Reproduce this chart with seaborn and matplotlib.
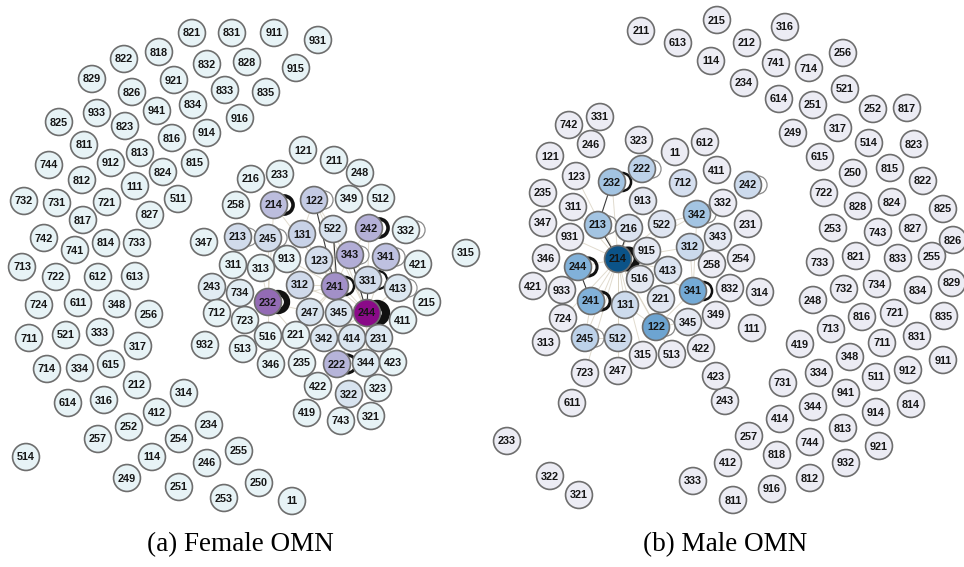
import matplotlib
matplotlib.use("Agg")
import matplotlib.pyplot as plt
import seaborn as sns
import pandas as pd
from matplotlib.colors import LinearSegmentedColormap

# ---------------- Female OMN (left) ----------------
f_labels = ["821","831","911","931","822","818","832","828","915","829","921","826","833","835",
            "933","941","834","916","825","823","914","816","811","813","744","912","815","824",
            "812","111","511","732","731","721","827","817","742","741","814","733","713","722",
            "612","613","724","611","348","256","711","521","333","317","714","334","615","212",
            "314","614","316","412","252","234","257","254","514","114","246","255","249","251",
            "253","250","11",
            "121","211","248","216","233","349","512","258","214","122","242","332","213","245",
            "131","522","347","343","341","421","315","311","313","913","123","331","243","734",
            "312","241","413","215","232","247","345","244","411","712","723","516","221","342",
            "414","231","932","513","346","235","222","344","423","422","322","323","419","743","321"]
f_x = [192,232,274,318,124,159,207,247,296,92,174,132,225,266,
       97,157,193,240,59,125,207,172,84,140,49,111,195,163,
       82,135,178,24,57,107,150,83,44,75,106,137,22,56,
       98,135,39,78,117,149,29,66,100,138,47,80,111,137,
       184,68,104,157,129,209,98,179,26,152,207,239,127,179,
       224,259,292,
       303,334,360,251,280,349,381,236,274,314,369,406,238,268,
       302,333,204,350,386,418,466,233,261,287,319,368,212,240,
       300,335,398,427,268,310,339,367,403,217,245,268,296,324,
       352,379,205,243,271,302,337,366,393,318,349,378,307,341,371]
f_y = [33,33,33,40,59,52,64,62,68,79,80,92,90,92,
       113,111,105,118,122,126,133,138,145,153,165,163,163,172,
       180,186,199,201,203,202,215,220,238,250,243,243,267,277,
       277,276,305,303,304,314,338,335,332,346,369,368,364,385,
       393,403,400,412,427,425,439,439,457,457,463,451,478,487,
       498,483,501,
       150,160,173,179,174,199,198,205,205,200,228,230,237,238,
       234,229,242,255,257,264,253,265,268,259,260,280,287,293,
       285,286,288,302,302,312,313,313,320,313,320,336,335,338,
       338,338,345,349,364,363,364,363,362,386,394,388,413,421,416]
f_hot_labels = ["244","232","241","343","222","242","214","341","122","131","312","213","245",
                "331","123","522","247","413","345","342","414","231","322","344","243","734"]
f_hot_values = [1.0,0.72,0.58,0.45,0.42,0.44,0.38,0.36,0.32,0.28,0.22,0.2,0.2,
                0.2,0.18,0.14,0.14,0.1,0.12,0.12,0.12,0.1,0.14,0.08,0.06,0.06]
f_loop_labels = ["244","232","214","242","222","241","331","122","332","245","341","213","413","343"]
f_loop_width  = [6.0,4.5,2.6,2.6,2.2,1.8,1.6,0.9,0.9,0.9,0.9,0.8,0.8,0.8]
f_loop_dark   = [1,1,1,1,1,1,1,0,0,0,0,0,0,0]
f_edges = [("244","241"),("244","343"),("244","331"),("244","345"),("244","414"),("244","342"),
           ("244","247"),("244","222"),("244","312"),("244","123"),("244","522"),("244","122"),
           ("244","231"),("244","413"),("244","341"),("244","242"),("241","232"),("241","343"),
           ("241","522"),("241","312"),("241","247"),("241","131"),("241","214"),("232","312"),
           ("232","214"),("232","245"),("232","247"),("232","221"),("343","522"),("343","123"),
           ("343","331"),("222","344"),("222","342"),("322","323"),("122","131"),("241","913"),
           ("232","313"),("232","516"),("244","344"),("241","221"),("343","242"),("122","343")]
f_dark_edges = [("122","241"),("522","345"),("331","244"),("343","244")]

# ---------------- Male OMN (right) ----------------
m_labels = ["211","613","215","316","212","114","741","714","256","234","614","251","521","252",
            "817","249","317","514","823","615","250","815","822","722","828","824","825","253",
            "743","827","826","733","821","833","255","829","732","734","834","248","816","721",
            "835","713","831","419","711","348","911","334","511","912","731","941","344","914",
            "814","414","813","744","921","818","932","812","916","257","412","333","811","233",
            "322","321","611","243","423",
            "742","331","246","323","11","612","121","123","232","222","712","411","242","235",
            "311","913","332","342","231","347","213","216","522","343","931","915","312","258",
            "254","346","244","214","413","516","341","832","314","421","933","241","131","221",
            "724","122","345","349","111","313","245","512","315","513","422","723","247"]
m_x = [641,678,717,785,747,711,776,809,843,744,779,813,845,873,
       907,793,838,869,914,820,853,890,923,824,858,892,943,833,
       878,913,953,820,856,898,932,952,844,877,918,813,862,894,
       944,831,917,800,882,850,943,819,876,908,783,846,813,876,
       911,780,843,810,879,777,846,810,772,749,728,693,733,507,
       550,579,572,725,716,
       569,600,591,639,675,705,550,576,612,642,683,717,748,543,
       573,643,723,697,748,543,598,629,662,718,570,647,690,712,
       741,546,578,618,668,640,693,730,760,533,562,591,625,661,
       563,656,688,716,752,546,585,618,643,672,701,585,618]
m_y = [31,43,20,27,43,61,63,68,53,83,99,105,89,109,
       108,133,128,143,144,157,173,168,181,193,206,202,209,228,
       232,228,240,262,256,258,256,283,289,284,290,300,317,313,
       316,329,336,344,343,357,360,373,377,370,383,393,407,412,
       404,419,428,442,446,455,463,478,489,436,463,481,500,441,
       476,495,403,401,376,
       125,117,144,140,152,142,156,176,182,169,183,170,185,193,
       207,201,203,214,224,223,225,228,224,237,237,251,247,264,
       258,258,267,259,270,279,291,288,292,286,290,301,305,299,
       318,327,322,315,328,342,338,338,355,354,348,373,371]
m_hot_labels = ["214","122","341","244","241","342","213","232","222","245","312","512","131",
                "242","712","216","413","221","522","915","516","913","345","343"]
m_hot_values = [1.0,0.58,0.55,0.5,0.5,0.38,0.38,0.38,0.28,0.28,0.2,0.18,0.18,
                0.18,0.14,0.1,0.1,0.08,0.08,0.05,0.05,0.05,0.05,0.05]
m_loop_labels = ["214","244","241","232","341","222","242","122","245","213","342"]
m_loop_width  = [5.0,2.2,2.2,1.8,1.8,0.9,0.9,0.9,0.9,0.9,0.9]
m_loop_dark   = [1,1,1,1,1,0,0,0,0,0,0]
m_edges = [("214","213"),("214","216"),("214","244"),("214","241"),("214","131"),("214","516"),
           ("214","915"),("214","122"),("214","232"),("214","342"),("214","312"),("214","341"),
           ("214","221"),("214","413"),("214","512"),("214","245"),("214","931"),("214","311"),
           ("341","312"),("341","342"),("341","122"),("342","522"),("122","131"),("245","512"),
           ("214","522"),("214","913"),("214","315"),("214","247"),("214","723"),("241","245"),
           ("122","345"),("342","332"),("232","222"),("214","123"),("214","724"),("214","513")]
m_dark_edges = [("213","214"),("216","214"),("244","241"),("232","213")]

f_caption = "(a) Female OMN"
m_caption = "(b) Male OMN"

# ---------------- drawing ----------------
f_cmap = LinearSegmentedColormap.from_list(
    "fomn", [(0.0, "#e7f3f6"), (0.3, "#c6cfe6"), (0.6, "#9f8cc6"), (0.8, "#8c55a8"), (1.0, "#8a0a88")])
m_cmap = LinearSegmentedColormap.from_list(
    "momn", [(0.0, "#ececf4"), (0.3, "#b9d0e8"), (0.55, "#74aad6"), (1.0, "#0b5388")])

fig = plt.figure(figsize=(9.64, 5.67), dpi=100)
ax = fig.add_axes([0, 0, 1, 1])
ax.set_xlim(0, 964)
ax.set_ylim(567, 0)
ax.axis("off")


def draw_panel(labels, xs, ys, hot_labels, hot_values, loop_labels, loop_width, loop_dark,
               edges, dark_edges, cmap):
    pos = {l: (x, y) for l, x, y in zip(labels, xs, ys)}
    hot = dict(zip(hot_labels, hot_values))
    # edges
    for a, b in edges:
        (x1, y1), (x2, y2) = pos[a], pos[b]
        ax.plot([x1, x2], [y1, y2], color="#d9d2c2", lw=0.7, alpha=0.8, zorder=1)
    for a, b in dark_edges:
        (x1, y1), (x2, y2) = pos[a], pos[b]
        ax.plot([x1, x2], [y1, y2], color="#3a3a3a", lw=0.8, zorder=1.5)
    # self loops
    lx = [pos[l][0] + 10 for l in loop_labels]
    ly = [pos[l][1] for l in loop_labels]
    for i in range(len(loop_labels)):
        col = "#111111" if loop_dark[i] else "#8a8a8a"
        sns.scatterplot(x=[lx[i]], y=[ly[i]], ax=ax, s=170, marker="o",
                        facecolors="none", edgecolor=col, linewidth=loop_width[i],
                        legend=False, zorder=2)
    # nodes
    df = pd.DataFrame({"x": xs, "y": ys, "w": [hot.get(l, 0.0) for l in labels]})
    sns.scatterplot(data=df, x="x", y="y", hue="w", palette=cmap, hue_norm=(0, 1),
                    s=375, edgecolor="#6e6e6e", linewidth=1.2, legend=False, ax=ax, zorder=3)
    for l, x, y in zip(labels, xs, ys):
        ax.text(x, y + 0.5, l, ha="center", va="center", fontsize=7.8, fontweight="bold",
                family="Liberation Sans", color="#151515", zorder=4)


draw_panel(f_labels, f_x, f_y, f_hot_labels, f_hot_values, f_loop_labels, f_loop_width,
           f_loop_dark, f_edges, f_dark_edges, f_cmap)
draw_panel(m_labels, m_x, m_y, m_hot_labels, m_hot_values, m_loop_labels, m_loop_width,
           m_loop_dark, m_edges, m_dark_edges, m_cmap)

ax.text(240, 545, f_caption, ha="center", va="center", fontsize=19.5, family="Liberation Serif")
ax.text(725, 545, m_caption, ha="center", va="center", fontsize=19.5, family="Liberation Serif")

fig.savefig("out.png", dpi=100)
